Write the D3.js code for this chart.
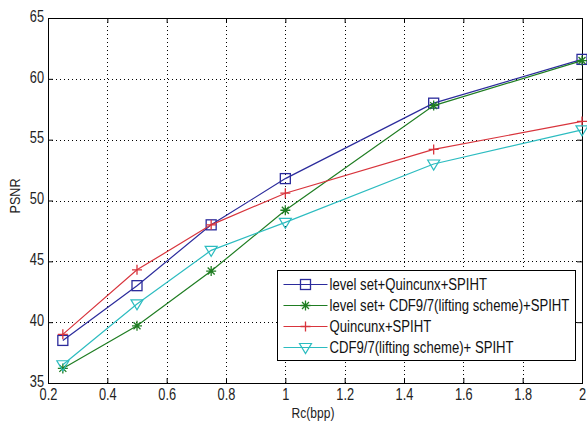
<!DOCTYPE html>
<html>
<head>
<meta charset="utf-8">
<script src="https://cdn.jsdelivr.net/npm/d3@7"></script>
<style>
  body { margin: 0; background: #fff; }
  svg { display: block; font-family: "Liberation Sans", Arial, sans-serif; }
</style>
</head>
<body>
<div id="chart"></div>
<script>
// values
let rates = [0.25, 0.5, 0.75, 1, 1.5, 2];
let levelSetQuincunx = [38.5, 43.0, 48.0, 51.8, 58.0, 61.6];
let levelSetCdf = [36.2, 39.7, 44.2, 49.2, 57.8, 61.5];
let quincunx = [39.0, 44.3, 48.0, 50.6, 54.2, 56.5];
let cdf = [36.5, 41.5, 45.9, 48.2, 53.0, 55.8];
let xTicks = [0.2, 0.4, 0.6, 0.8, 1, 1.2, 1.4, 1.6, 1.8, 2];
let yTicks = [35, 40, 45, 50, 55, 60, 65];

let series = [
    { name: 'level set+Quincunx+SPIHT', values: levelSetQuincunx, color: '#2b2b9c', marker: 'square' },
    { name: 'level set+ CDF9/7(lifting scheme)+SPIHT', values: levelSetCdf, color: '#1f7d22', marker: 'star' },
    { name: 'Quincunx+SPIHT', values: quincunx, color: '#d8343c', marker: 'plus' },
    { name: 'CDF9/7(lifting scheme)+ SPIHT', values: cdf, color: '#2cbcc0', marker: 'triangle' }
];

// matlab font looks condensed, squeeze it horizontally
let squeeze = 0.8;

function drawChart(div) {
    let width = 587, height = 421;
    let margin = { left: 48, top: 18, right: 5, bottom: 38 };
    let chartWidth = width - margin.left - margin.right;
    let chartHeight = height - margin.top - margin.bottom;

    let svg = d3.select(div).append('svg')
        .attr('width', width)
        .attr('height', height);
    let chart = svg.append('g')
        .attr('transform', `translate(${margin.left},${margin.top})`);

    let xScaler = d3.scaleLinear().domain([0.2, 2]).range([0, chartWidth]);
    let yScaler = d3.scaleLinear().domain([35, 65]).range([chartHeight, 0]);

    // dotted grid
    let grid = chart.append('g').attr('class', 'grid')
        .attr('stroke', '#000').attr('stroke-width', 1).attr('stroke-dasharray', '1,3');
    grid.selectAll('.gx').data(xTicks.slice(1, -1)).enter().append('line')
        .attr('x1', d => Math.round(xScaler(d)) + 0.5).attr('x2', d => Math.round(xScaler(d)) + 0.5)
        .attr('y1', 0).attr('y2', chartHeight);
    grid.selectAll('.gy').data(yTicks.slice(1, -1)).enter().append('line')
        .attr('y1', d => Math.round(yScaler(d)) + 0.5).attr('y2', d => Math.round(yScaler(d)) + 0.5)
        .attr('x1', 0).attr('x2', chartWidth);

    // axes, ticks inside like matlab
    let fmt = d => String(d);
    let xAxisG = chart.append('g').attr('transform', `translate(0,${chartHeight})`)
        .call(d3.axisBottom(xScaler).tickValues(xTicks).tickFormat(fmt).tickSizeInner(-5).tickSizeOuter(0).tickPadding(6));
    chart.append('g')
        .call(d3.axisTop(xScaler).tickValues(xTicks).tickFormat('').tickSizeInner(-5).tickSizeOuter(0));
    let yAxisG = chart.append('g')
        .call(d3.axisLeft(yScaler).tickValues(yTicks).tickFormat(fmt).tickSizeInner(-5).tickSizeOuter(0).tickPadding(4));
    chart.append('g').attr('transform', `translate(${chartWidth},0)`)
        .call(d3.axisRight(yScaler).tickValues(yTicks).tickFormat('').tickSizeInner(-5).tickSizeOuter(0));
    chart.selectAll('.tick text').attr('font-size', 16).attr('fill', '#222')
        .attr('font-family', '"Liberation Sans", Arial, sans-serif')
        .attr('transform', `scale(${squeeze},1)`);
    yAxisG.selectAll('.tick text').attr('x', -4 / squeeze).attr('dy', '0.2em');
    chart.selectAll('.domain').remove();

    chart.append('rect')
        .attr('x', 0.5).attr('y', 0.5).attr('width', chartWidth).attr('height', chartHeight)
        .attr('fill', 'none').attr('stroke', '#000').attr('stroke-width', 1);

    svg.append('text').attr('transform', 'translate(313,418) scale(0.86,1)')
        .attr('text-anchor', 'middle').attr('font-size', 14).attr('fill', '#222').text('Rc(bpp)');
    svg.append('text').attr('transform', 'translate(20,196) rotate(-90) scale(0.9,1)')
        .attr('text-anchor', 'middle').attr('font-size', 14).attr('fill', '#222').text('PSNR');

    // lines
    let line = d3.line().x((d, i) => xScaler(rates[i])).y(d => yScaler(d));
    let lines = chart.append('g');
    series.forEach(s => {
        lines.append('path').datum(s.values)
            .attr('d', line).attr('fill', 'none')
            .attr('stroke', s.color).attr('stroke-width', 1.2);
        s.values.forEach((v, i) => drawMarker(lines, s.marker, xScaler(rates[i]), yScaler(v), s.color));
    });

    drawLegend(svg);
}

function drawMarker(g, type, x, y, color) {
    if (type === 'square') {
        g.append('rect').attr('x', x - 5).attr('y', y - 5).attr('width', 10).attr('height', 10)
            .attr('fill', 'none').attr('stroke', color).attr('stroke-width', 1.3);
    } else if (type === 'plus') {
        g.append('path').attr('d', `M${x - 5},${y}H${x + 5}M${x},${y - 5}V${y + 5}`)
            .attr('stroke', color).attr('stroke-width', 1.3);
    } else if (type === 'star') {
        g.append('path').attr('d', `M${x - 5},${y}H${x + 5}M${x},${y - 5}V${y + 5}M${x - 3.5},${y - 3.5}L${x + 3.5},${y + 3.5}M${x - 3.5},${y + 3.5}L${x + 3.5},${y - 3.5}`)
            .attr('stroke', color).attr('stroke-width', 1.3);
    } else if (type === 'triangle') {
        g.append('path').attr('d', `M${x - 6},${y - 4}L${x + 6},${y - 4}L${x},${y + 6}Z`)
            .attr('fill', 'none').attr('stroke', color).attr('stroke-width', 1.2);
    }
}

function drawLegend(svg) {
    let legend = svg.append('g').attr('transform', 'translate(277.5,270.5)');
    legend.append('rect').attr('width', 298).attr('height', 90)
        .attr('fill', '#fff').attr('stroke', '#000').attr('stroke-width', 1);
    series.forEach((s, i) => {
        let y = 14 + i * 21;
        legend.append('line').attr('x1', 6).attr('x2', 50).attr('y1', y).attr('y2', y)
            .attr('stroke', s.color).attr('stroke-width', 1.2);
        drawMarker(legend, s.marker, 28, y, s.color);
        legend.append('text').attr('transform', `translate(52,${y + 5.5}) scale(0.82,1)`)
            .attr('font-size', 16).attr('fill', '#111').text(s.name);
    });
}

drawChart('#chart');
</script>
</body>
</html>
